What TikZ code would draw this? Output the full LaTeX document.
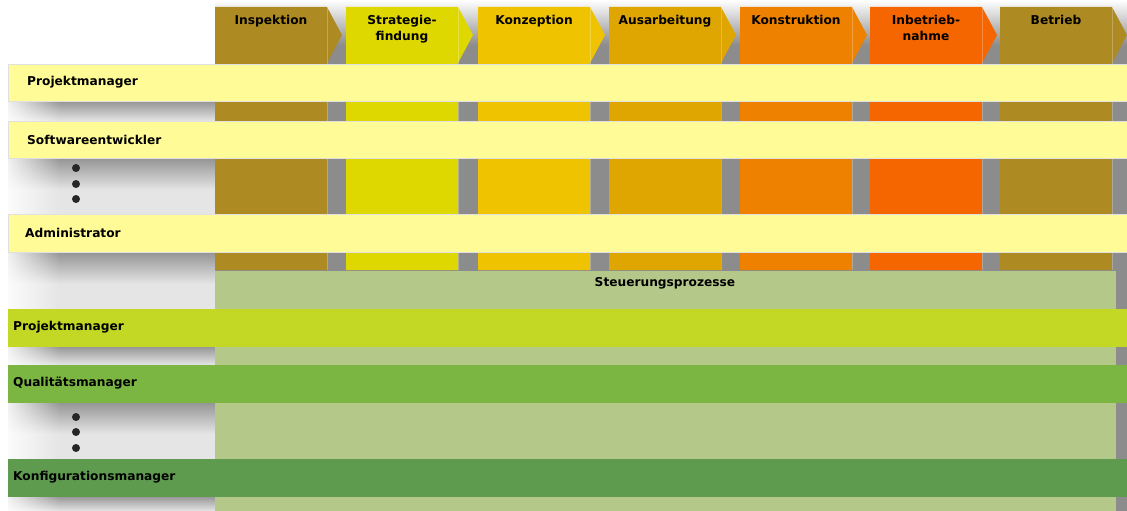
\documentclass[tikz,border=0pt]{standalone}
\usepackage{fontspec}
\setmainfont{DejaVu Sans}
\usetikzlibrary{fadings}
\definecolor{inspekt}{HTML}{AD8A22}
\definecolor{strat}{HTML}{DFD800}
\definecolor{konzept}{HTML}{F0C300}
\definecolor{ausarb}{HTML}{DFA500}
\definecolor{konstr}{HTML}{EE8200}
\definecolor{inbetr}{HTML}{F56600}
\definecolor{rolleY}{HTML}{FFFB96}
\definecolor{steuer}{HTML}{B4C88A}
\definecolor{limeG}{HTML}{C2D824}
\definecolor{midG}{HTML}{7BB542}
\definecolor{darkG}{HTML}{5E9B4F}
\definecolor{schatten}{HTML}{8C8C8C}
\tikzfading[name=fade out right, left color=transparent!0, right color=transparent!100]
\begin{document}
\begin{tikzpicture}[x=1pt, y=-1pt,
  phase/.style={anchor=north, align=center, inner sep=0pt, font=\bfseries\fontsize{12.2}{16}\selectfont},
  role/.style={anchor=west, inner sep=0pt, font=\bfseries\fontsize{12.2}{14}\selectfont},
  band/.style={draw=black!12, line width=0.5pt},
  dot/.style={circle, fill=black!85, minimum size=8pt, inner sep=0pt}]
\useasboundingbox (0,0) rectangle (1127,511);
% shadows behind the phase columns
\shade[top color=white, bottom color=schatten] (215,0) rectangle (1127,45);
\fill[schatten] (215,45) rectangle (1127,511);
% soft shadows below the role bands
\fill[black!10] (8,101) rectangle (215,511);
\foreach \ya/\yb in {101/121, 158/190, 252/284, 346/365, 402/434, 496/511}{
  \shade[top color=black!42, bottom color=black!10] (8,\ya) rectangle (215,\yb);
}
\fill[white, path fading=fade out right] (0,64) rectangle (60,511);
% phase columns
\foreach \x/\c/\t [count=\i] in {215/inspekt/Inspektion, 346/strat/{Strategie-\\findung},
    478/konzept/Konzeption, 609/ausarb/Ausarbeitung, 740/konstr/Konstruktion,
    870/inbetr/{Inbetrieb-\\nahme}, 1000/inspekt/Betrieb}{
  \fill[\c] (\x,7) -- (\x+112,7) -- (\x+127,35) -- (\x+112,63) -- (\x+112,270) -- (\x,270) -- cycle;
  \draw[white, opacity=.25, line width=0.6pt] (\x+112,7) -- (\x+112,270);
  \node[phase] (ph\i) at (\x+56,15.5) {\t};
}
% control processes
\fill[steuer] (215,271) rectangle (1116,511);
\node[phase, font=\bfseries\fontsize{12.2}{14}\selectfont] (steu) at (665,277.5) {Steuerungsprozesse};
% roles in the phases
\begin{scope}[every path/.style={band}]
\filldraw[fill=rolleY] (8,64) rectangle (1130,101);
\filldraw[fill=rolleY] (8,121) rectangle (1130,158);
\filldraw[fill=rolleY] (8,214) rectangle (1130,252);
\filldraw[fill=limeG, draw=limeG] (8,309) rectangle (1130,346);
\filldraw[fill=midG, draw=midG] (8,365) rectangle (1130,402);
\filldraw[fill=darkG, draw=darkG] (8,459) rectangle (1130,496);
\end{scope}
\node[role] (pm1) at (27,82.5) {Projektmanager};
\node[role] (swe) at (27,139.5) {Softwareentwickler};
\node[role] (adm) at (25,233) {Administrator};
\node[role] (pm2) at (13,327.5) {Projektmanager};
\node[role] (qm) at (13,383.5) {Qualitätsmanager};
\node[role] (km) at (13,477.5) {Konfigurationsmanager};
\foreach \y [count=\i] in {168,184,199}{
  \node[dot] (da\i) at (76,\y) {};
}
\foreach \y [count=\i] in {417,432,448}{
  \node[dot] (db\i) at (76,\y) {};
}
\end{tikzpicture}
\end{document}
